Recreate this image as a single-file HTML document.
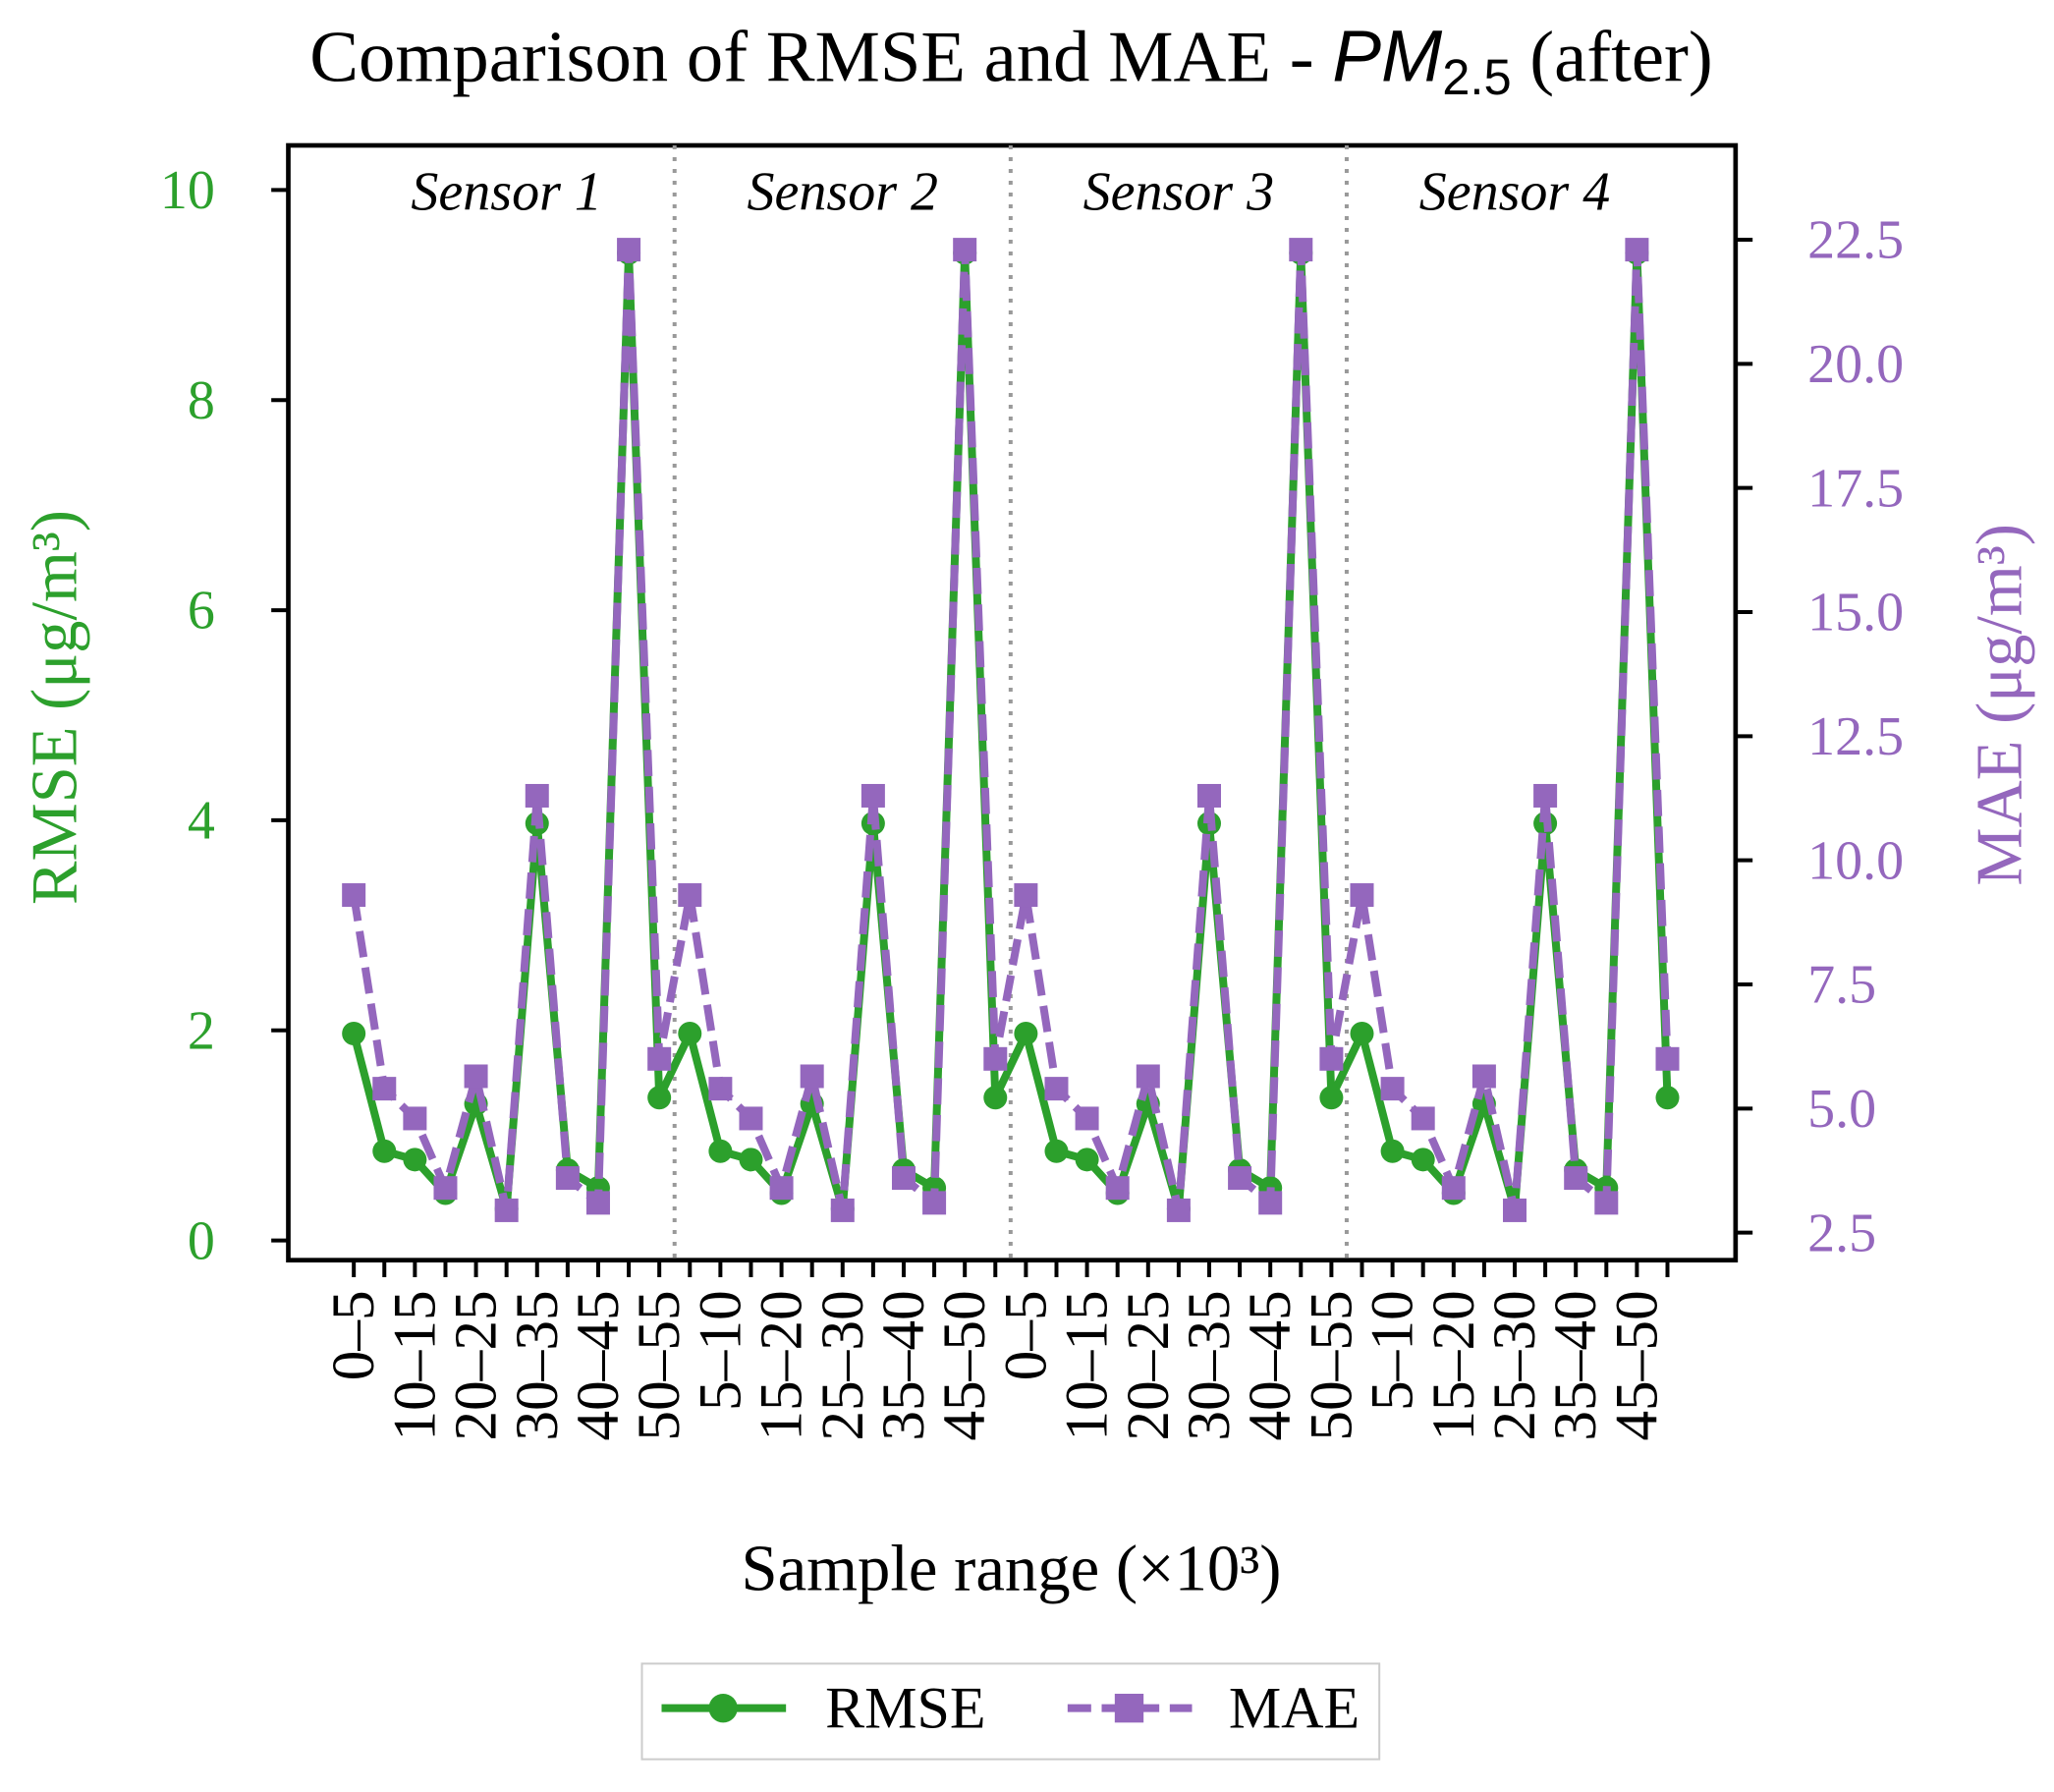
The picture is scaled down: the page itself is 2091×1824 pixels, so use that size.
<!DOCTYPE html>
<html><head><meta charset="utf-8"><style>
html,body{margin:0;padding:0;background:#fff}
svg{display:block}
text{font-family:"Liberation Serif",serif}
</style></head><body>
<svg width="2091" height="1824" viewBox="0 0 1568 1368" xmlns="http://www.w3.org/2000/svg">
<rect width="1568" height="1368" fill="#fff"/>
<text x="772" y="62" font-size="56" text-anchor="middle">Comparison of RMSE and MAE - <tspan font-family="Liberation Sans,sans-serif" font-style="italic">PM</tspan><tspan font-family="Liberation Sans,sans-serif" font-size="38" dy="10">2.5</tspan><tspan dy="-10"> (after)</tspan></text>
<g id="plot"></g>
<text x="772" y="1214" font-size="50" text-anchor="middle">Sample range (×10³)</text>
<text transform="translate(58,540) rotate(-90)" font-size="50" fill="#2ca02c" text-anchor="middle">RMSE (μg/m³)</text>
<text transform="translate(1543,538) rotate(-90)" font-size="50" fill="#9467bd" text-anchor="middle">MAE (μg/m³)</text>
<g>
<rect x="490" y="1270" width="563" height="73" fill="#fff" stroke="#ccc" stroke-width="1.5"/>
<g>
<line x1="505" y1="1304" x2="600" y2="1304" stroke="#2ca02c" stroke-width="6"/>
<circle cx="552" cy="1304" r="11" fill="#2ca02c"/>
<text x="630" y="1319" font-size="45">RMSE</text></g>
<g>
<line x1="815" y1="1304" x2="910" y2="1304" stroke="#9467bd" stroke-width="6" stroke-dasharray="18,8"/>
<rect x="851" y="1293" width="22" height="22" fill="#9467bd"/>
<text x="938" y="1319" font-size="45">MAE</text></g>
</g>
</svg>
<script>
const sensors=["Sensor 1","Sensor 2","Sensor 3","Sensor 4"];
const ranges=["0–5","5–10","10–15","15–20","20–25","25–30","30–35","35–40","40–45","45–50","50–55"];
const rmseS1=[1.97,0.85,0.77,0.45,1.30,0.30,3.97,0.67,0.50,9.40,1.36];
const rmseS2=[1.97,0.85,0.77,0.45,1.30,0.30,3.97,0.67,0.50,9.40,1.36];
const rmseS3=[1.97,0.85,0.77,0.45,1.30,0.30,3.97,0.67,0.50,9.40,1.36];
const rmseS4=[1.97,0.85,0.77,0.45,1.30,0.30,3.97,0.67,0.50,9.40,1.36];
const maeS1=[9.3,5.4,4.8,3.4,5.65,2.95,11.3,3.6,3.1,22.3,6.0];
const maeS2=[9.3,5.4,4.8,3.4,5.65,2.95,11.3,3.6,3.1,22.3,6.0];
const maeS3=[9.3,5.4,4.8,3.4,5.65,2.95,11.3,3.6,3.1,22.3,6.0];
const maeS4=[9.3,5.4,4.8,3.4,5.65,2.95,11.3,3.6,3.1,22.3,6.0];
const leftTicks=[0,2,4,6,8,10];
const rightTicks=[2.5,5.0,7.5,10.0,12.5,15.0,17.5,20.0,22.5];

const NS="http://www.w3.org/2000/svg";
const g=document.getElementById('plot');
const L=220,R=1325,T=111,B=962;
const n=sensors.length*ranges.length;
const x=i=>270+i*(1273-270)/(n-1);
const yL=v=>947-v*80.2;
const yR=v=>941-(v-2.5)*37.9;
function mk(tag,attrs,parent){const e=document.createElementNS(NS,tag);for(const k in attrs)e.setAttribute(k,attrs[k]);(parent||g).appendChild(e);return e;}
const rmse=[].concat(rmseS1,rmseS2,rmseS3,rmseS4);
const mae=[].concat(maeS1,maeS2,maeS3,maeS4);
let fr=mk('rect',{x:L,y:T,width:R-L,height:B-T,fill:'none',stroke:'#000','stroke-width':3.5});


sensors.forEach((s,k)=>{
  if(k>0){const dx=x(k*ranges.length-0.5);
    const d=mk('line',{x1:dx,y1:T,x2:dx,y2:B,stroke:'#999','stroke-width':3,'stroke-dasharray':'3,6'});
    
    }
  const cx=x(k*ranges.length+5);
  const t=mk('text',{x:cx,y:160,'font-size':42,'font-style':'italic','text-anchor':'middle'});
  t.textContent=s;
  
  
});
leftTicks.forEach(v=>{
  mk('line',{x1:L-13,y1:yL(v),x2:L,y2:yL(v),stroke:'#000','stroke-width':3});
  const t=mk('text',{x:L-56,y:yL(v)+14,'font-size':42,fill:'#2ca02c','text-anchor':'end'});
  t.textContent=v;
  
  
});
rightTicks.forEach(v=>{
  mk('line',{x1:R,y1:yR(v),x2:R+13,y2:yR(v),stroke:'#000','stroke-width':3});
  const t=mk('text',{x:R+55,y:yR(v)+14,'font-size':42,fill:'#9467bd'});
  t.textContent=v.toFixed(1);
  
  
});
for(let i=0;i<n;i++){
  mk('line',{x1:x(i),y1:B,x2:x(i),y2:B+13,stroke:'#000','stroke-width':3});
  if(i%2===0){
    const t=mk('text',{transform:`translate(${x(i)+15},985) rotate(-90)`,'font-size':46,'text-anchor':'end'});
    t.textContent=ranges[i%ranges.length];
    
    
  }
}
const pr=mk('polyline',{points:rmse.map((v,i)=>x(i)+','+yL(v)).join(' '),fill:'none',stroke:'#2ca02c','stroke-width':6,'stroke-linejoin':'round'});


rmse.forEach((v,i)=>{const c=mk('circle',{cx:x(i),cy:yL(v),r:9,fill:'#2ca02c'});
  
  });
const pm=mk('polyline',{points:mae.map((v,i)=>x(i)+','+yR(v)).join(' '),fill:'none',stroke:'#9467bd','stroke-width':6,'stroke-dasharray':'20,8','stroke-linejoin':'round'});


mae.forEach((v,i)=>{const r=mk('rect',{x:x(i)-9,y:yR(v)-9,width:18,height:18,fill:'#9467bd'});
  
  });
</script>
</body></html>
